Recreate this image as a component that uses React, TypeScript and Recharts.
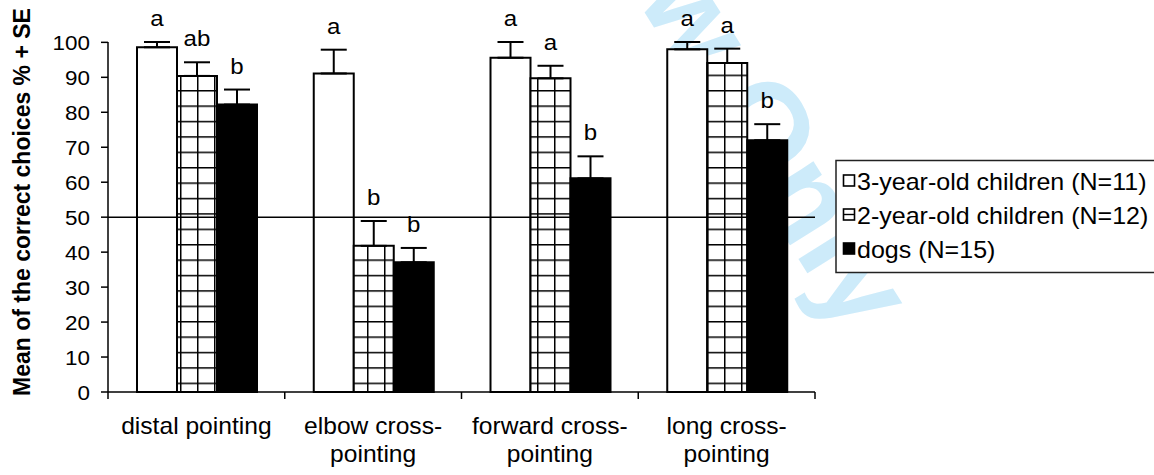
import React from 'react';
import { BarChart, Bar, XAxis, YAxis, ErrorBar, LabelList, ReferenceLine } from 'recharts';

// categories and series values
const categories = ['distal pointing', 'elbow cross-pointing', 'forward cross-pointing', 'long cross-pointing'];
const seriesNames = ['3-year-old children (N=11)', '2-year-old children (N=12)', 'dogs (N=15)'];

const threeYearMeans = [98.6, 91.1, 95.6, 98.0];
const threeYearSE = [1.5, 6.8, 4.5, 2.1];
const twoYearMeans = [90.4, 41.8, 89.7, 94.1];
const twoYearSE = [3.9, 7.1, 3.6, 4.1];
const dogMeans = [82.2, 37.1, 61.1, 72.0];
const dogSE = [4.3, 4.1, 6.3, 4.6];

const threeYearLetters = ['a', 'a', 'a', 'a'];
const twoYearLetters = ['ab', 'b', 'a', 'a'];
const dogLetters = ['b', 'b', 'b', 'b'];

const yTicks = [0, 10, 20, 30, 40, 50, 60, 70, 80, 90, 100];
const chanceLevel = 50;

const rows = categories.map((name, i) => ({
  name,
  three: threeYearMeans[i],
  threeSE: threeYearSE[i],
  two: twoYearMeans[i],
  twoSE: twoYearSE[i],
  dogs: dogMeans[i],
  dogsSE: dogSE[i],
}));

const FONT = '"Liberation Sans", Arial, sans-serif';
const W = 1154;
const H = 475;
const M = { top: 42, right: 339, bottom: 0, left: 0 };
const Y_AXIS_W = 108;
const X_AXIS_H = 83;
const plotLeft = M.left + Y_AXIS_W;
const plotRight = W - M.right;
const plotBottom = H - M.bottom - X_AXIS_H;
const band = (plotRight - plotLeft) / categories.length;
const SX = 1.07; // the original figure is a bit stretched sideways

const Txt = ({ x, y, size, anchor = 'middle', weight = 'normal', children }: any) => (
  <text
    transform={`translate(${x},${y}) scale(${SX},1)`}
    x={0}
    y={0}
    fontSize={size}
    fontWeight={weight}
    textAnchor={anchor}
    fontFamily={FONT}
    fill="#000"
  >
    {children}
  </text>
);

const YTick = (props: any) => {
  const { x, y, payload } = props;
  return <Txt x={x} y={y + 7.5} size={21} anchor="end">{payload.value}</Txt>;
};

const XTick = (props: any) => {
  const { x, payload, index } = props;
  const lines = String(payload.value).split(/(?<=cross-)/);
  return (
    <g>
      <line x1={x - band / 2} x2={x - band / 2} y1={plotBottom} y2={plotBottom + 7} stroke="#000" strokeWidth={1.5} />
      {index === categories.length - 1 && (
        <line x1={x + band / 2} x2={x + band / 2} y1={plotBottom} y2={plotBottom + 7} stroke="#000" strokeWidth={1.5} />
      )}
      {lines.map((ln, k) => (
        <Txt key={k} x={x} y={plotBottom + 42 + k * 27.5} size={23}>{ln}</Txt>
      ))}
    </g>
  );
};

const YTitle = () => (
  <text
    transform={`translate(30,${(plotBottom + 12) / 2}) rotate(-90)`}
    textAnchor="middle"
    fontSize={23}
    fontWeight="bold"
    fontFamily={FONT}
    fill="#000"
  >
    Mean of the correct choices % + SE
  </text>
);

// letter sits above the top of the error bar
const makeLetter = (letters: string[], means: number[], ses: number[]) => (props: any) => {
  const { x, y, width, height, index } = props;
  const pxPerUnit = Number(height) / means[index];
  const top = Number(y) - ses[index] * pxPerUnit;
  return <Txt x={Number(x) + Number(width) / 2} y={top - 16} size={22.5}>{letters[index]}</Txt>;
};

const Legend3 = () => {
  const rowsY = [181, 215, 249];
  return (
    <svg width={W} height={H} style={{ position: 'absolute', left: 0, top: 0, pointerEvents: 'none' }}>
      <rect x={836} y={160.5} width={400} height={112} fill="#fff" stroke="#222" strokeWidth={1.5} />
      {seriesNames.map((s, i) => {
        const cy = rowsY[i];
        return (
          <g key={s}>
            <rect x={843.5} y={cy - 6} width={11} height={11} fill={i === 2 ? '#000' : '#fff'} stroke="#000" strokeWidth={1.6} />
            {i === 1 && <line x1={843.5} x2={854.5} y1={cy - 0.5} y2={cy - 0.5} stroke="#000" strokeWidth={1.4} />}
            <Txt x={857} y={cy + 8.5} size={23.4} anchor="start">{s}</Txt>
          </g>
        );
      })}
    </svg>
  );
};

const Watermark = () => (
  <svg width={W} height={H} style={{ position: 'absolute', left: 0, top: 0 }}>
    <text
      transform="translate(848,338) rotate(58)"
      textAnchor="end"
      fontSize={122}
      fontWeight="bold"
      fontFamily={FONT}
      fill="#cdebfa"
    >
      Review Only
    </text>
  </svg>
);

export default function App() {
  return (
    <div style={{ position: 'absolute', left: 0, top: 0, width: W, height: H, overflow: 'hidden', background: '#fff' }}>
      <Watermark />
      <div style={{ position: 'absolute', left: 0, top: 0 }}>
        <BarChart width={W} height={H} data={rows} margin={M} barGap={0} barCategoryGap={29}>
          <defs>
            <pattern id="gridHatch" patternUnits="userSpaceOnUse" x={10} y={13} width={17} height={15.4}>
              <rect x={0} y={0} width={17} height={15.4} fill="#fff" />
              <line x1={0} x2={17} y1={0.75} y2={0.75} stroke="#000" strokeWidth={1.5} />
              <line x1={0.75} x2={0.75} y1={0} y2={15.4} stroke="#000" strokeWidth={1.5} />
            </pattern>
          </defs>
          <XAxis
            dataKey="name"
            height={X_AXIS_H}
            interval={0}
            tickLine={false}
            axisLine={{ stroke: '#000', strokeWidth: 1.5 }}
            tick={<XTick />}
          />
          <YAxis
            width={Y_AXIS_W}
            domain={[0, 100]}
            ticks={yTicks}
            interval={0}
            tickSize={7}
            tickMargin={11}
            axisLine={{ stroke: '#000', strokeWidth: 1.5 }}
            tickLine={{ stroke: '#000', strokeWidth: 1.5 }}
            tick={<YTick />}
            label={<YTitle />}
          />
          <Bar dataKey="three" name={seriesNames[0]} fill="#fff" stroke="#000" strokeWidth={2} isAnimationActive={false}>
            <ErrorBar dataKey={(d: any) => [0, d.threeSE]} width={13} stroke="#000" strokeWidth={2} direction="y" isAnimationActive={false} />
            <LabelList dataKey="three" content={makeLetter(threeYearLetters, threeYearMeans, threeYearSE)} />
          </Bar>
          <Bar dataKey="two" name={seriesNames[1]} fill="url(#gridHatch)" stroke="#000" strokeWidth={2} isAnimationActive={false}>
            <ErrorBar dataKey={(d: any) => [0, d.twoSE]} width={13} stroke="#000" strokeWidth={2} direction="y" isAnimationActive={false} />
            <LabelList dataKey="two" content={makeLetter(twoYearLetters, twoYearMeans, twoYearSE)} />
          </Bar>
          <Bar dataKey="dogs" name={seriesNames[2]} fill="#000" stroke="#000" strokeWidth={2} isAnimationActive={false}>
            <ErrorBar dataKey={(d: any) => [0, d.dogsSE]} width={13} stroke="#000" strokeWidth={2} direction="y" isAnimationActive={false} />
            <LabelList dataKey="dogs" content={makeLetter(dogLetters, dogMeans, dogSE)} />
          </Bar>
          <ReferenceLine y={chanceLevel} stroke="#000" strokeWidth={1.5} />
        </BarChart>
      </div>
      <Legend3 />
    </div>
  );
}
